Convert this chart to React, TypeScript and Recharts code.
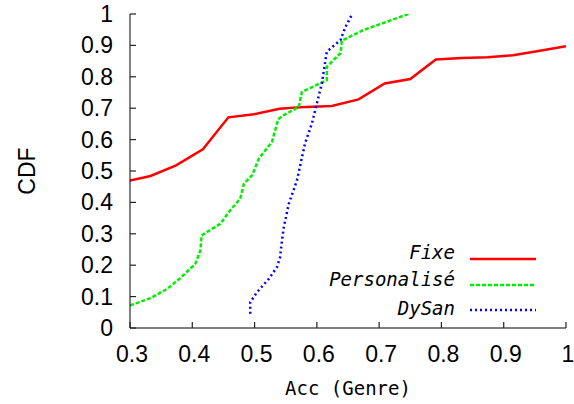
import { LineChart, Line, XAxis, YAxis } from 'recharts';

// CDF curves (x = accuracy, y = cumulative fraction)
const fixeAcc = [0.3, 0.333, 0.374, 0.417, 0.458, 0.499, 0.54, 0.573, 0.624, 0.667, 0.709, 0.75, 0.791, 0.833, 0.874, 0.915, 0.958, 1.0];
const fixeCdf = [0.47, 0.484, 0.518, 0.569, 0.671, 0.681, 0.698, 0.703, 0.707, 0.728, 0.779, 0.793, 0.855, 0.86, 0.862, 0.869, 0.883, 0.897];

const persoAcc = [0.3, 0.333, 0.36, 0.381, 0.405, 0.413, 0.415, 0.445, 0.461, 0.477, 0.483, 0.496, 0.507, 0.528, 0.538, 0.547, 0.571, 0.576, 0.616, 0.616, 0.638, 0.64, 0.675, 0.702, 0.747];
const persoCdf = [0.072, 0.095, 0.125, 0.159, 0.205, 0.247, 0.295, 0.332, 0.375, 0.412, 0.46, 0.486, 0.54, 0.593, 0.665, 0.678, 0.704, 0.752, 0.789, 0.832, 0.875, 0.915, 0.949, 0.968, 1.0];

const dysanAcc = [0.493, 0.493, 0.504, 0.523, 0.536, 0.541, 0.544, 0.547, 0.555, 0.568, 0.581, 0.592, 0.6, 0.608, 0.613, 0.616, 0.638, 0.646, 0.656];
const dysanCdf = [0.045, 0.082, 0.114, 0.157, 0.194, 0.226, 0.279, 0.322, 0.396, 0.47, 0.588, 0.651, 0.715, 0.779, 0.843, 0.88, 0.917, 0.959, 0.997];

const xTicks = [0.3, 0.4, 0.5, 0.6, 0.7, 0.8, 0.9, 1];
const yTicks = [0, 0.1, 0.2, 0.3, 0.4, 0.5, 0.6, 0.7, 0.8, 0.9, 1];

const series = [
  { name: 'Fixe', acc: fixeAcc, cdf: fixeCdf, color: '#ff0000', dash: undefined },
  { name: 'Personalisé', acc: persoAcc, cdf: persoCdf, color: '#00ee00', dash: '4 2' },
  { name: 'DySan', acc: dysanAcc, cdf: dysanCdf, color: '#0000ff', dash: '2 3' },
];

const toPoints = (acc: number[], cdf: number[]) => acc.map((x, i) => ({ x, y: cdf[i] }));

const sans = 'Liberation Sans, Arial, sans-serif';
const mono = 'DejaVu Sans Mono, monospace';
const tickColor = '#222';

function BottomTick(props: any) {
  const { x, y, payload } = props;
  return (
    <g>
      <line x1={x} y1={y} x2={x} y2={y - 6} stroke={tickColor} strokeWidth={1.2} />
      <text x={x + 2} y={y + 34} textAnchor="middle" fontSize={23} fontFamily={sans} fill="#000">
        {String(payload.value)}
      </text>
    </g>
  );
}

function TopTick(props: any) {
  const { x, y } = props;
  return <line x1={x} y1={y} x2={x} y2={y + 6} stroke={tickColor} strokeWidth={1.2} />;
}

function LeftTick(props: any) {
  const { x, y, payload } = props;
  return (
    <g>
      <line x1={x} y1={y} x2={x + 6} y2={y} stroke={tickColor} strokeWidth={1.2} />
      <text x={x - 17} y={y + 8} textAnchor="end" fontSize={23} fontFamily={sans} fill="#000">
        {String(payload.value)}
      </text>
    </g>
  );
}

function RightTick(props: any) {
  const { x, y } = props;
  return <line x1={x} y1={y} x2={x - 6} y2={y} stroke={tickColor} strokeWidth={1.2} />;
}

// legend drawn as an overlay so it does not take room from the plot
function LegendBox() {
  const rows = [259, 285, 310];
  const baselines = [258.5, 285.5, 315];
  return (
    <svg width={574} height={404} style={{ position: 'absolute', left: 0, top: 0, pointerEvents: 'none' }}>
      {series.map((s, i) => (
        <g key={s.name}>
          <text x={455} y={baselines[i]} textAnchor="end" fontSize={19} fontStyle="italic" fontFamily={mono} fill="#000">
            {s.name}
          </text>
          <line x1={470} x2={536} y1={rows[i]} y2={rows[i]} stroke={s.color} strokeWidth={2.5} strokeDasharray={s.dash} />
        </g>
      ))}
    </svg>
  );
}

export default function App() {
  return (
    <div style={{ position: 'absolute', left: 0, top: 0, width: 574, height: 404, background: '#fff' }}>
      <LineChart width={574} height={404} margin={{ top: 14, right: 8, left: 0, bottom: 0 }}>
        <XAxis
          xAxisId="bottom"
          type="number"
          dataKey="x"
          domain={[0.3, 1]}
          ticks={xTicks}
          interval={0}
          allowDataOverflow
          height={76}
          tickSize={0}
          tickMargin={0}
          tickLine={false}
          axisLine={{ stroke: '#000' }}
          tick={<BottomTick />}
          label={{ value: 'Acc (Genre)', position: 'insideBottom', offset: 9, fontSize: 19, fontFamily: mono, fill: '#000' }}
        />
        <XAxis
          xAxisId="top"
          orientation="top"
          type="number"
          dataKey="x"
          domain={[0.3, 1]}
          ticks={xTicks}
          interval={0}
          allowDataOverflow
          height={0}
          tickSize={0}
          tickMargin={0}
          tickLine={false}
          axisLine={{ stroke: '#000' }}
          tick={<TopTick />}
        />
        <YAxis
          yAxisId="left"
          type="number"
          domain={[0, 1]}
          ticks={yTicks}
          interval={0}
          allowDataOverflow
          width={130}
          tickSize={0}
          tickMargin={0}
          tickLine={false}
          axisLine={{ stroke: '#000' }}
          tick={<LeftTick />}
          label={{
            content: () => (
              <text transform="translate(35,171) rotate(-90)" textAnchor="middle" fontSize={23} fontFamily={sans} fill="#000">
                CDF
              </text>
            ),
          }}
        />
        <YAxis
          yAxisId="right"
          orientation="right"
          type="number"
          domain={[0, 1]}
          ticks={yTicks}
          interval={0}
          allowDataOverflow
          width={0}
          tickSize={0}
          tickMargin={0}
          tickLine={false}
          axisLine={{ stroke: '#000' }}
          tick={<RightTick />}
        />
        {series.map((s) => (
          <Line
            key={s.name}
            xAxisId="bottom"
            yAxisId="left"
            data={toPoints(s.acc, s.cdf)}
            dataKey="y"
            name={s.name}
            type="linear"
            stroke={s.color}
            strokeWidth={2.5}
            strokeDasharray={s.dash}
            dot={false}
            activeDot={false}
            isAnimationActive={false}
          />
        ))}
      </LineChart>
      <LegendBox />
    </div>
  );
}
